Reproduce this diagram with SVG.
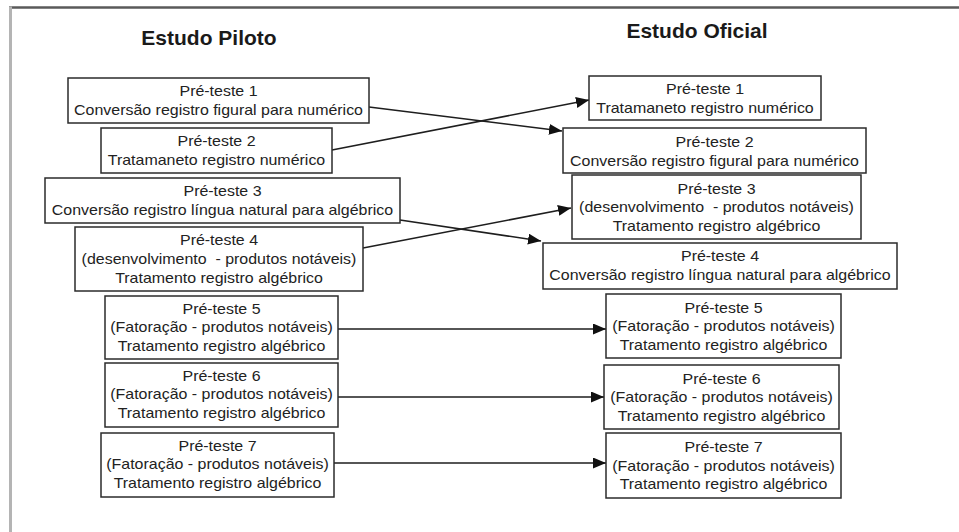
<svg xmlns="http://www.w3.org/2000/svg" width="959" height="532" viewBox="0 0 959 532">
  <style>
    .box { fill: #ffffff; stroke: #2b2b2b; stroke-width: 1.5; }
    .t { font-family: "Liberation Sans", Arial, sans-serif; font-size: 14px; fill: #222222; text-anchor: middle; white-space: pre; }
    .title { font-family: "Liberation Sans", Arial, sans-serif; font-size: 20px; font-weight: bold; fill: #1a1a1a; text-anchor: middle; }
    .link { fill: none; stroke: #1e1e1e; stroke-width: 1.5; marker-end: url(#arrow); }
  </style>
  <defs>
    <marker id="arrow" markerUnits="userSpaceOnUse" markerWidth="13" markerHeight="11" refX="13" refY="5.5" orient="auto">
      <path d="M0,0 L13,5.5 L0,11 Z" fill="#111111"/>
    </marker>
  </defs>

  <rect x="0" y="0" width="959" height="532" fill="#ffffff"/>

  <!-- page frame -->
  <g id="frame">
    <line x1="9" y1="7.5" x2="959" y2="7.5" stroke="#5a5a5a" stroke-width="2.5"/>
    <line x1="10.5" y1="6.5" x2="10.5" y2="532" stroke="#b4b4b4" stroke-width="3"/>
  </g>

  <!-- column headings -->
  <g id="headings">
    <text class="title" transform="translate(209,45) scale(1.05,1)">Estudo Piloto</text>
    <text class="title" transform="translate(697,38) scale(1.05,1)">Estudo Oficial</text>
  </g>

  <!-- connectors -->
  <g id="connectors">
    <line class="link" x1="369" y1="107" x2="562" y2="131"/>
    <line class="link" x1="332" y1="150" x2="589" y2="100"/>
    <line class="link" x1="400" y1="220" x2="541" y2="241"/>
    <line class="link" x1="363" y1="248" x2="571" y2="208"/>
    <line class="link" x1="338" y1="329" x2="606" y2="329"/>
    <line class="link" x1="338" y1="397" x2="604" y2="397"/>
    <line class="link" x1="334" y1="463" x2="606" y2="463"/>
  </g>

  <!-- pilot study -->
  <g id="piloto-1">
    <rect class="box" x="68" y="78" width="301" height="45"/>
    <text class="t" transform="translate(218.5,96) scale(1.14,1)">Pré-teste 1</text>
    <text class="t" transform="translate(218.5,114.5) scale(1.14,1)">Conversão registro figural para numérico</text>
  </g>
  <g id="piloto-2">
    <rect class="box" x="101" y="128" width="231" height="45"/>
    <text class="t" transform="translate(216.5,146) scale(1.14,1)">Pré-teste 2</text>
    <text class="t" transform="translate(216.5,164.5) scale(1.14,1)">Tratamaneto registro numérico</text>
  </g>
  <g id="piloto-3">
    <rect class="box" x="45" y="178" width="355" height="45"/>
    <text class="t" transform="translate(222.5,196) scale(1.14,1)">Pré-teste 3</text>
    <text class="t" transform="translate(222.5,214.5) scale(1.14,1)">Conversão registro língua natural para algébrico</text>
  </g>
  <g id="piloto-4">
    <rect class="box" x="75" y="227" width="288" height="64"/>
    <text class="t" transform="translate(219,245) scale(1.14,1)">Pré-teste 4</text>
    <text class="t" transform="translate(219,264) scale(1.14,1)">(desenvolvimento  - produtos notáveis)</text>
    <text class="t" transform="translate(219,282.5) scale(1.14,1)">Tratamento registro algébrico</text>
  </g>
  <g id="piloto-5">
    <rect class="box" x="105" y="296" width="233" height="63"/>
    <text class="t" transform="translate(221.5,313.5) scale(1.14,1)">Pré-teste 5</text>
    <text class="t" transform="translate(221.5,332) scale(1.14,1)">(Fatoração - produtos notáveis)</text>
    <text class="t" transform="translate(221.5,351) scale(1.14,1)">Tratamento registro algébrico</text>
  </g>
  <g id="piloto-6">
    <rect class="box" x="105" y="363" width="233" height="64"/>
    <text class="t" transform="translate(221.5,380.5) scale(1.14,1)">Pré-teste 6</text>
    <text class="t" transform="translate(221.5,399) scale(1.14,1)">(Fatoração - produtos notáveis)</text>
    <text class="t" transform="translate(221.5,418) scale(1.14,1)">Tratamento registro algébrico</text>
  </g>
  <g id="piloto-7">
    <rect class="box" x="101" y="433" width="233" height="64"/>
    <text class="t" transform="translate(217.5,450.5) scale(1.14,1)">Pré-teste 7</text>
    <text class="t" transform="translate(217.5,469) scale(1.14,1)">(Fatoração - produtos notáveis)</text>
    <text class="t" transform="translate(217.5,487.5) scale(1.14,1)">Tratamento registro algébrico</text>
  </g>

  <!-- official study -->
  <g id="oficial-1">
    <rect class="box" x="589" y="76" width="232" height="44"/>
    <text class="t" transform="translate(705,93.5) scale(1.14,1)">Pré-teste 1</text>
    <text class="t" transform="translate(705,112.5) scale(1.14,1)">Tratamaneto registro numérico</text>
  </g>
  <g id="oficial-2">
    <rect class="box" x="563" y="128" width="303" height="45"/>
    <text class="t" transform="translate(714.5,146.5) scale(1.14,1)">Pré-teste 2</text>
    <text class="t" transform="translate(714.5,165.5) scale(1.14,1)">Conversão registro figural para numérico</text>
  </g>
  <g id="oficial-3">
    <rect class="box" x="572" y="175" width="289" height="64"/>
    <text class="t" transform="translate(716.5,193.5) scale(1.14,1)">Pré-teste 3</text>
    <text class="t" transform="translate(716.5,212) scale(1.14,1)">(desenvolvimento  - produtos notáveis)</text>
    <text class="t" transform="translate(716.5,231) scale(1.14,1)">Tratamento registro algébrico</text>
  </g>
  <g id="oficial-4">
    <rect class="box" x="543" y="243" width="354" height="46"/>
    <text class="t" transform="translate(720,261) scale(1.14,1)">Pré-teste 4</text>
    <text class="t" transform="translate(720,280) scale(1.14,1)">Conversão registro língua natural para algébrico</text>
  </g>
  <g id="oficial-5">
    <rect class="box" x="606" y="294" width="235" height="64"/>
    <text class="t" transform="translate(723.5,313) scale(1.14,1)">Pré-teste 5</text>
    <text class="t" transform="translate(723.5,331) scale(1.14,1)">(Fatoração - produtos notáveis)</text>
    <text class="t" transform="translate(723.5,350) scale(1.14,1)">Tratamento registro algébrico</text>
  </g>
  <g id="oficial-6">
    <rect class="box" x="604" y="365" width="235" height="64"/>
    <text class="t" transform="translate(721.5,383.5) scale(1.14,1)">Pré-teste 6</text>
    <text class="t" transform="translate(721.5,402) scale(1.14,1)">(Fatoração - produtos notáveis)</text>
    <text class="t" transform="translate(721.5,421) scale(1.14,1)">Tratamento registro algébrico</text>
  </g>
  <g id="oficial-7">
    <rect class="box" x="606" y="433" width="235" height="65"/>
    <text class="t" transform="translate(723.5,452) scale(1.14,1)">Pré-teste 7</text>
    <text class="t" transform="translate(723.5,470.5) scale(1.14,1)">(Fatoração - produtos notáveis)</text>
    <text class="t" transform="translate(723.5,489) scale(1.14,1)">Tratamento registro algébrico</text>
  </g>
</svg>
